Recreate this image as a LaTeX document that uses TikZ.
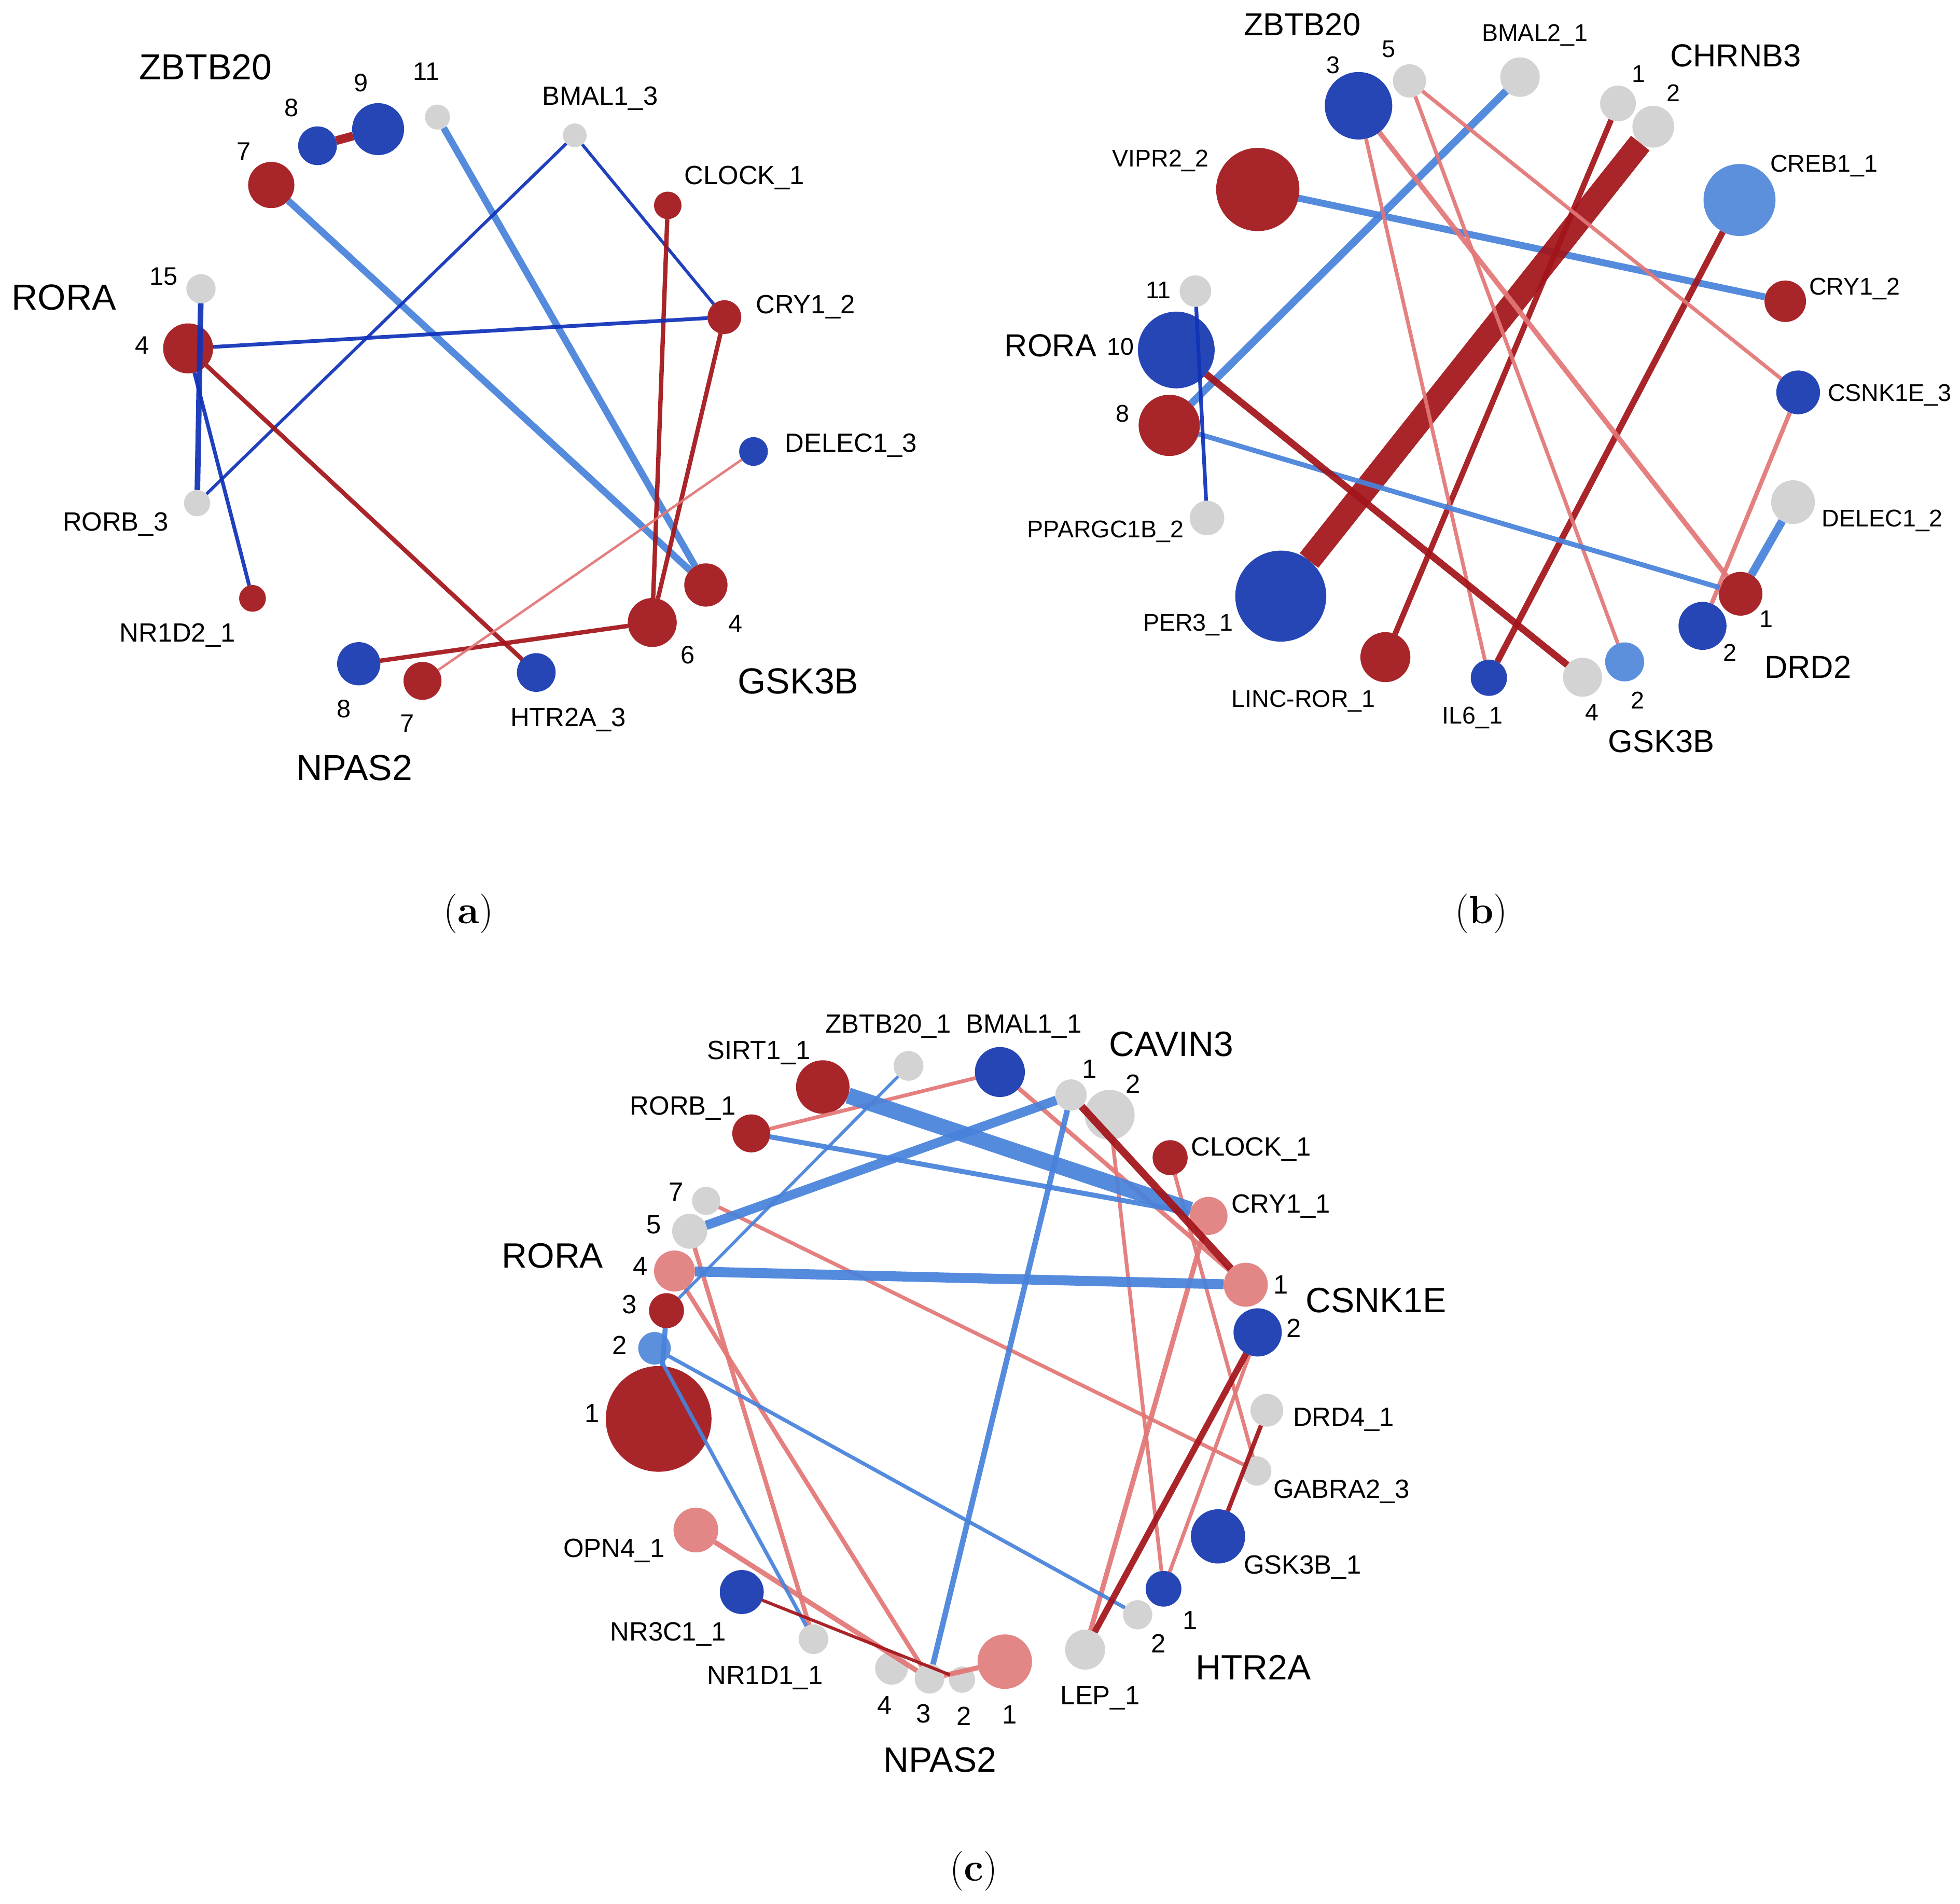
\documentclass[tikz,border=0pt]{standalone}
\usepackage{fontspec}
\newfontfamily\lsf{Liberation Sans}
\definecolor{nred}{RGB}{168,38,42}
\definecolor{nblue}{RGB}{38,70,181}
\definecolor{nlblue}{RGB}{92,143,220}
\definecolor{npink}{RGB}{226,134,134}
\definecolor{ngray}{RGB}{211,211,211}
\definecolor{ered}{RGB}{163,20,26}
\definecolor{edblue}{RGB}{16,50,185}
\definecolor{elblue}{RGB}{72,130,218}
\definecolor{epink}{RGB}{226,118,118}
\tikzset{
 vtx/.style={circle, inner sep=0pt, outer sep=0pt, minimum size=#1*0.4mm, draw=none},
 lk/.style={line width=#1*0.567pt, draw opacity=0.93},
 bigA/.style={font=\lsf\fontsize{16.5}{17}\selectfont, inner sep=0pt, text height=11.8pt, text depth=0pt},
 bigB/.style={font=\lsf\fontsize{14.5}{15}\selectfont, inner sep=0pt, text height=10.4pt, text depth=0pt},
 bigC/.style={font=\lsf\fontsize{16}{17}\selectfont, inner sep=0pt, text height=11.5pt, text depth=0pt},
 smA/.style={font=\lsf\fontsize{12}{13}\selectfont, inner sep=0pt, text height=8.6pt, text depth=0pt},
 smB/.style={font=\lsf\fontsize{11}{12}\selectfont, inner sep=0pt, text height=7.9pt, text depth=0pt},
 numA/.style={font=\lsf\fontsize{11.5}{12}\selectfont, inner sep=0pt, text height=8.2pt, text depth=0pt},
 capt/.style={font=\fontsize{18}{19}\selectfont, inner sep=0pt},
}
\begin{document}
\begin{tikzpicture}[x=0.02cm, y=-0.02cm]
\useasboundingbox (0,0) rectangle (1568,1523);

% ================= Panel (a) =================
\node[vtx=15.5, fill=nblue] (a8) at (254,116.6) {};
\node[vtx=20.8, fill=nblue] (a9) at (302.5,103.3) {};
\node[vtx=10, fill=ngray] (a11) at (350,93.7) {};
\node[vtx=18.5, fill=nred] (a7) at (217,148) {};
\node[vtx=9.5, fill=ngray] (abmal) at (459.8,108.3) {};
\node[vtx=11, fill=nred] (aclock) at (534.2,164.3) {};
\node[vtx=13.5, fill=nred] (acry) at (579.5,253.7) {};
\node[vtx=11.5, fill=nblue] (adelec) at (602.8,361.2) {};
\node[vtx=17.3, fill=nred] (ag4) at (564.7,468) {};
\node[vtx=19.6, fill=nred] (ag6) at (521.8,498) {};
\node[vtx=15.5, fill=nblue] (ahtr) at (429,538) {};
\node[vtx=15.2, fill=nred] (an7) at (338,544.7) {};
\node[vtx=17.3, fill=nblue] (an8) at (287,531) {};
\node[vtx=10.7, fill=nred] (anr) at (202,478.7) {};
\node[vtx=10.5, fill=ngray] (arorb) at (157.7,402.5) {};
\node[vtx=20, fill=nred] (ar4) at (150.5,278.7) {};
\node[vtx=11.7, fill=ngray] (ar15) at (160.8,231) {};

\draw[lk=7, ered] (a8) -- (a9);
\draw[lk=5.5, elblue] (a11) -- (ag4);
\draw[lk=5.5, elblue] (a7) -- (ag4);
\draw[lk=2.5, edblue] (abmal) -- (arorb);
\draw[lk=2.5, edblue] (abmal) -- (acry);
\draw[lk=3.5, ered] (aclock) -- (ag6);
\draw[lk=3.5, ered] (acry) -- (ag6);
\draw[lk=3, edblue] (acry) -- (ar4);
\draw[lk=3.5, ered] (ar4) -- (ahtr);
\draw[lk=4.5, edblue] (ar15) -- (arorb);
\draw[lk=3, edblue] (ar4) -- (anr);
\draw[lk=3.5, ered] (ag6) -- (an8);
\draw[lk=2, epink] (adelec) -- (an7);

\node[bigA] (la1) at (164.4,53.4) {ZBTB20};
\node[bigA] (la2) at (51.2,237.6) {RORA};
\node[bigA] (la3) at (638.6,544.7) {GSK3B};
\node[bigA] (la4) at (283.5,613.7) {NPAS2};
\node[smA] (la5) at (480,76.3) {BMAL1\_3};
\node[smA] (la6) at (595.6,139.8) {CLOCK\_1};
\node[smA] (la7) at (644.4,243.4) {CRY1\_2};
\node[smA, anchor=west] (la8) at (627.8,354) {DELEC1\_3};
\node[smA] (la9) at (454.6,573.5) {HTR2A\_3};
\node[smA] (la10) at (92.4,417) {RORB\_3};
\node[smA] (la11) at (142,506) {NR1D2\_1};
\node[numA] (na1) at (195,121) {7};
\node[numA] (na2) at (233,86) {8};
\node[numA] (na3) at (288.7,66) {9};
\node[numA] (na4) at (341,57) {11};
\node[numA] (na5) at (131,221) {15};
\node[numA] (na6) at (113.9,276) {4};
\node[numA] (na7) at (588.4,498.6) {4};
\node[numA] (na8) at (550.4,523.6) {6};
\node[numA] (na9) at (275,567) {8};
\node[numA] (na10) at (325.6,578.4) {7};

% ================= Panel (b) =================
\node[vtx=27, fill=nblue] (bz3) at (1086.8,84.6) {};
\node[vtx=13.3, fill=ngray] (bz5) at (1127.6,64.7) {};
\node[vtx=15.8, fill=ngray] (bbmal) at (1216,61.7) {};
\node[vtx=14.3, fill=ngray] (bc1) at (1294.4,82.8) {};
\node[vtx=16.7, fill=ngray] (bc2) at (1322.6,101.4) {};
\node[vtx=33.3, fill=nred] (bvipr) at (1006.2,151.6) {};
\node[vtx=28.8, fill=nlblue] (bcreb) at (1391.6,160) {};
\node[vtx=16.6, fill=nred] (bcry) at (1428.2,241) {};
\node[vtx=17.5, fill=nblue] (bcsnk) at (1438.5,313.9) {};
\node[vtx=17.5, fill=ngray] (bdelec) at (1434.4,401.7) {};
\node[vtx=17.5, fill=nred] (bd1) at (1392.4,475) {};
\node[vtx=19.2, fill=nblue] (bd2) at (1362,500.7) {};
\node[vtx=15.6, fill=nlblue] (bg2) at (1299.7,529.5) {};
\node[vtx=15.6, fill=ngray] (bg4) at (1266,541.8) {};
\node[vtx=14.5, fill=nblue] (bil6) at (1191.1,542.2) {};
\node[vtx=20, fill=nred] (blinc) at (1108.3,525.7) {};
\node[vtx=36.4, fill=nblue] (bper) at (1024.6,476.9) {};
\node[vtx=13.8, fill=ngray] (bppar) at (965.6,414.4) {};
\node[vtx=24.5, fill=nred] (br8) at (935.4,340.3) {};
\node[vtx=30.7, fill=nblue] (br10) at (941,280) {};
\node[vtx=12.6, fill=ngray] (br11) at (956.3,232.9) {};

\draw[lk=5.5, elblue] (bvipr) -- (bcry);
\draw[lk=6, elblue] (bbmal) -- (br8);
\draw[lk=19, ered] (bc2) -- (bper);
\draw[lk=4.5, ered] (bc1) -- (blinc);
\draw[lk=5, ered] (bcreb) -- (bil6);
\draw[lk=3, epink] (bz3) -- (bil6);
\draw[lk=4, epink] (bz3) -- (bd1);
\draw[lk=3, epink] (bz5) -- (bg2);
\draw[lk=3, epink] (bz5) -- (bcsnk);
\draw[lk=3.5, epink] (bcsnk) -- (bd2);
\draw[lk=6.5, elblue] (bdelec) -- (bd1);
\draw[lk=4, elblue] (br8) -- (bd1);
\draw[lk=5.5, ered] (br10) -- (bg4);
\draw[lk=3, edblue] (br11) -- (bppar);

\node[bigB] (lb1) at (1041.7,19.2) {ZBTB20};
\node[bigB] (lb2) at (1388.5,44.1) {CHRNB3};
\node[bigB] (lb3) at (840.4,276.3) {RORA};
\node[bigB] (lb4) at (1446.3,533.4) {DRD2};
\node[bigB] (lb5) at (1328.9,592.8) {GSK3B};
\node[smB] (lb6) at (1227.9,26.1) {BMAL2\_1};
\node[smB] (lb7) at (928.4,126.6) {VIPR2\_2};
\node[smB] (lb8) at (1459.2,130.5) {CREB1\_1};
\node[smB] (lb9) at (1483.6,229) {CRY1\_2};
\node[smB] (lb10) at (1511.6,313.9) {CSNK1E\_3};
\node[smB] (lb11) at (1505.9,414.4) {DELEC1\_2};
\node[smB] (lb12) at (884.4,423.2) {PPARGC1B\_2};
\node[smB] (lb13) at (950.5,497.7) {PER3\_1};
\node[smB] (lb14) at (1042.7,559) {LINC-ROR\_1};
\node[smB] (lb15) at (1178,572) {IL6\_1};
\node[smB] (nb1) at (1066.4,51.7) {3};
\node[smB] (nb2) at (1110.8,38.8) {5};
\node[smB] (nb3) at (1310.8,59) {1};
\node[smB] (nb4) at (1338.6,74.3) {2};
\node[smB] (nb5) at (926.6,232) {11};
\node[smB] (nb6) at (896.4,277) {10};
\node[smB] (nb7) at (898.2,330.7) {8};
\node[smB] (nb8) at (1413,495) {1};
\node[smB] (nb9) at (1384.1,521.8) {2};
\node[smB] (nb10) at (1310,560) {2};
\node[smB] (nb11) at (1273.7,569.8) {4};

% ================= Panel (c) =================
\node[vtx=21.4, fill=nred] (csirt) at (658.2,869.6) {};
\node[vtx=11.9, fill=ngray] (czbtb) at (726.8,852.7) {};
\node[vtx=20, fill=nblue] (cbmal) at (799.9,857.6) {};
\node[vtx=15.2, fill=nred] (crorb) at (601,906.7) {};
\node[vtx=11.3, fill=ngray] (cr7) at (564.9,960.7) {};
\node[vtx=14, fill=ngray] (cr5) at (551.7,985) {};
\node[vtx=16.4, fill=npink] (cr4) at (539.6,1016.8) {};
\node[vtx=14, fill=nred] (cr3) at (533.2,1048.5) {};
\node[vtx=13, fill=nlblue] (cr2) at (523.6,1078.6) {};
\node[vtx=42.3, fill=nred] (cr1) at (526.9,1135.1) {};
\node[vtx=17.9, fill=npink] (copn) at (556.7,1224) {};
\node[vtx=17.6, fill=nblue] (cnr3) at (593.4,1273.6) {};
\node[vtx=11.9, fill=ngray] (cnr1) at (650.8,1311.3) {};
\node[vtx=13.1, fill=ngray] (cn4) at (713.2,1334.6) {};
\node[vtx=11.9, fill=ngray] (cn3) at (743.6,1343) {};
\node[vtx=10.5, fill=ngray] (cn2) at (769.6,1343.7) {};
\node[vtx=21.8, fill=npink] (cn1) at (803.8,1329.3) {};
\node[vtx=16, fill=ngray] (clep) at (868.1,1319.7) {};
\node[vtx=11.7, fill=ngray] (ch2) at (910.1,1291.8) {};
\node[vtx=14.3, fill=nblue] (ch1) at (930.8,1271) {};
\node[vtx=21.7, fill=nblue] (cgsk) at (974.4,1229.1) {};
\node[vtx=11.7, fill=ngray] (cgab) at (1005.4,1176.8) {};
\node[vtx=13.1, fill=ngray] (cdrd4) at (1013.5,1128.2) {};
\node[vtx=19.3, fill=nblue] (ccs2) at (1006.1,1065.9) {};
\node[vtx=17.6, fill=npink] (ccs1) at (996.6,1027.8) {};
\node[vtx=15.2, fill=npink] (ccry) at (966.8,972.7) {};
\node[vtx=14, fill=nred] (cclock) at (936.1,926.1) {};
\node[vtx=12.5, fill=ngray] (ccav1) at (856.8,876) {};
\node[vtx=20, fill=ngray] (ccav2) at (887.7,891.9) {};

\draw[lk=3, epink] (crorb) -- (cbmal);
\draw[lk=3.5, epink] (cbmal) -- (ccs1);
\draw[lk=3, epink] (ccav2) -- (ch1);
\draw[lk=3, epink] (cclock) -- (cgab);
\draw[lk=4, epink] (ccry) -- (clep);
\draw[lk=3, epink] (ccs2) -- (ch1);
\draw[lk=3, epink] (cr7) -- (cgab);
\draw[lk=3.5, epink] (cr5) -- (cnr1);
\draw[lk=3.5, epink] (cr4) -- (cn3);
\draw[lk=4, epink] (copn) -- (cn3);
\draw[lk=4, epink] (cn3) -- (cn1);
\draw[lk=13, elblue] (csirt) -- (ccry);
\draw[lk=7.5, elblue] (cr5) -- (ccav1);
\draw[lk=8, elblue] (cr4) -- (ccs1);
\draw[lk=4, elblue] (crorb) -- (ccry);
\draw[lk=4.5, elblue] (ccav1) -- (cn3);
\draw[lk=2.5, elblue] (czbtb) -- (cr3);
\draw[lk=4, elblue] (cr3) -- (cr1);
\draw[lk=3, elblue] (cr2) -- (cnr1);
\draw[lk=3, elblue] (cr2) -- (ch2);
\draw[lk=6, ered] (ccav1) -- (ccs1);
\draw[lk=5, ered] (ccs2) -- (clep);
\draw[lk=3.5, ered] (cdrd4) -- (cgsk);
\draw[lk=2.5, ered] (cnr3) -- (cn2);

\node[bigC] (lc1) at (937,834.7) {CAVIN3};
\node[bigC] (lc2) at (442,1004) {RORA};
\node[bigC] (lc3) at (1100.9,1040) {CSNK1E};
\node[bigC] (lc4) at (1002.7,1333.5) {HTR2A};
\node[bigC] (lc5) at (752,1407.6) {NPAS2};
\node[smA] (lc6) at (710.6,818.8) {ZBTB20\_1};
\node[smA] (lc7) at (819,818.8) {BMAL1\_1};
\node[smA] (lc8) at (607,840) {SIRT1\_1};
\node[smA] (lc9) at (546.3,884.4) {RORB\_1};
\node[smA] (lc10) at (1000.9,917.3) {CLOCK\_1};
\node[smA] (lc11) at (1024.7,962.8) {CRY1\_1};
\node[smA] (lc12) at (1074.9,1133.4) {DRD4\_1};
\node[smA] (lc13) at (1073.2,1191) {GABRA2\_3};
\node[smA] (lc14) at (1042,1251.6) {GSK3B\_1};
\node[smA] (lc15) at (880.1,1356.2) {LEP\_1};
\node[smA] (lc16) at (612,1339.8) {NR1D1\_1};
\node[smA] (lc17) at (534.5,1305) {NR3C1\_1};
\node[smA] (lc18) at (491.2,1238.3) {OPN4\_1};
\node[smA] (nc1) at (871.5,854.8) {1};
\node[smA] (nc2) at (906.3,867.1) {2};
\node[smA] (nc3) at (541,953.2) {7};
\node[smA] (nc4) at (523.2,979.3) {5};
\node[smA] (nc5) at (512.2,1012.5) {4};
\node[smA] (nc6) at (503.4,1043.2) {3};
\node[smA] (nc7) at (495.8,1076) {2};
\node[smA] (nc8) at (473.8,1130.3) {1};
\node[smA] (nc9) at (1024.7,1027.4) {1};
\node[smA] (nc10) at (1034.9,1062.3) {2};
\node[smA] (nc11) at (707.7,1363.8) {4};
\node[smA] (nc12) at (738.9,1370.5) {3};
\node[smA] (nc13) at (771,1372.7) {2};
\node[smA] (nc14) at (807.6,1371.6) {1};
\node[smA] (nc15) at (926.8,1314.5) {2};
\node[smA] (nc16) at (952.2,1295.8) {1};

% ================= Captions =================
\node[capt] (capa) at (375,731) {(\textbf{a})};
\node[capt] (capb) at (1185,731) {(\textbf{b})};
\node[capt] (capc) at (779,1497) {(\textbf{c})};
\end{tikzpicture}
\end{document}
